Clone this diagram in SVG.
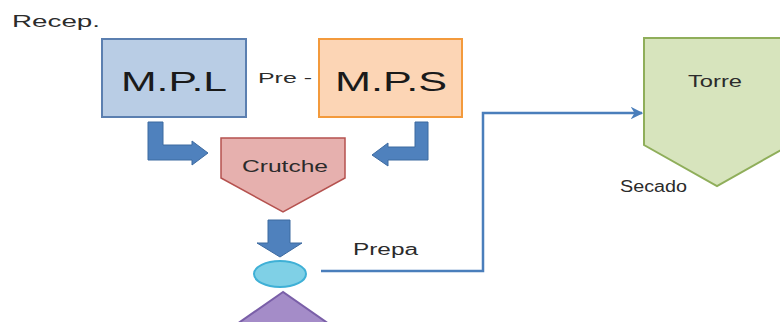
<svg xmlns="http://www.w3.org/2000/svg" width="780" height="322" viewBox="0 0 780 322">
  <defs>
    <style>
      .lbl { font-family: "Liberation Sans", Arial, sans-serif; fill: #2b2b2b; }
      .big { font-size: 27px; fill: #1a1a1a; }
      .mid { font-size: 16px; }
      .sm { font-size: 14px; }
      .block { fill: #4f81bd; stroke: #3d6aa0; stroke-width: 1; }
      .flow { fill: none; stroke: #4a7ebb; stroke-width: 2.5; }
    </style>
    <marker id="arrow" viewBox="0 0 10 10" refX="9" refY="5" markerWidth="5" markerHeight="5" orient="auto" markerUnits="strokeWidth">
      <path d="M0,0 L10,5 L0,10 L3,5 Z" fill="#4a7ebb"/>
    </marker>
  </defs>

  <rect width="780" height="322" fill="#ffffff"/>

  <text class="lbl mid" x="12" y="27" textLength="88" lengthAdjust="spacingAndGlyphs">Recep.</text>

  <g id="mpl">
    <rect x="102" y="39" width="144" height="78" fill="#b9cde5" stroke="#5b7fb0" stroke-width="2"/>
    <text class="lbl big" x="121" y="91" textLength="106" lengthAdjust="spacingAndGlyphs">M.P.L</text>
  </g>

  <text class="lbl sm" x="258" y="83" textLength="54" lengthAdjust="spacingAndGlyphs">Pre -</text>

  <g id="mps">
    <rect x="319" y="39" width="143" height="78" fill="#fcd5b5" stroke="#f39a3c" stroke-width="2"/>
    <text class="lbl big" x="335" y="91" textLength="112" lengthAdjust="spacingAndGlyphs">M.P.S</text>
  </g>

  <g id="crutche">
    <polygon points="221,138 345,138 345,178 283,212 221,178" fill="#e6b0ae" stroke="#b5524f" stroke-width="1.5"/>
    <text class="lbl mid" x="242" y="172" textLength="86" lengthAdjust="spacingAndGlyphs">Crutche</text>
  </g>

  <g id="pump">
    <ellipse cx="280" cy="274" rx="26" ry="13" fill="#7fd0e6" stroke="#3fb0d6" stroke-width="2"/>
  </g>

  <g id="hopper">
    <polygon points="283,292 214,340 352,340" fill="#a48cc8" stroke="#7a5fa8" stroke-width="2"/>
  </g>

  <g id="torre">
    <polygon points="644,38 790,38 790,145 717,186 644,145" fill="#d7e4bd" stroke="#8fae5a" stroke-width="2"/>
    <text class="lbl mid" x="688" y="87" textLength="54" lengthAdjust="spacingAndGlyphs">Torre</text>
  </g>

  <text class="lbl mid" x="620" y="192" textLength="67" lengthAdjust="spacingAndGlyphs">Secado</text>
  <text class="lbl mid" x="353" y="255" textLength="65" lengthAdjust="spacingAndGlyphs">Prepa</text>

  <g id="connectors">
    <!-- bent block arrow from M.P.L into Crutche -->
    <path class="block" d="M148,122 L163,122 L163,145 L192,145 L192,141 L208,153 L192,165 L192,160 L148,160 Z"/>
    <!-- bent block arrow from M.P.S into Crutche -->
    <path class="block" d="M428,122 L415,122 L415,147 L388,147 L388,143 L372,155 L388,166 L388,160 L428,160 Z"/>
    <!-- block arrow down from Crutche -->
    <path class="block" d="M268,220 L290,220 L290,243 L302,243 L280,257 L257,243 L268,243 Z"/>
    <!-- flow line to the tower -->
    <path class="flow" d="M321,271 L483,271 L483,113 L642,113" marker-end="url(#arrow)"/>
  </g>
</svg>
